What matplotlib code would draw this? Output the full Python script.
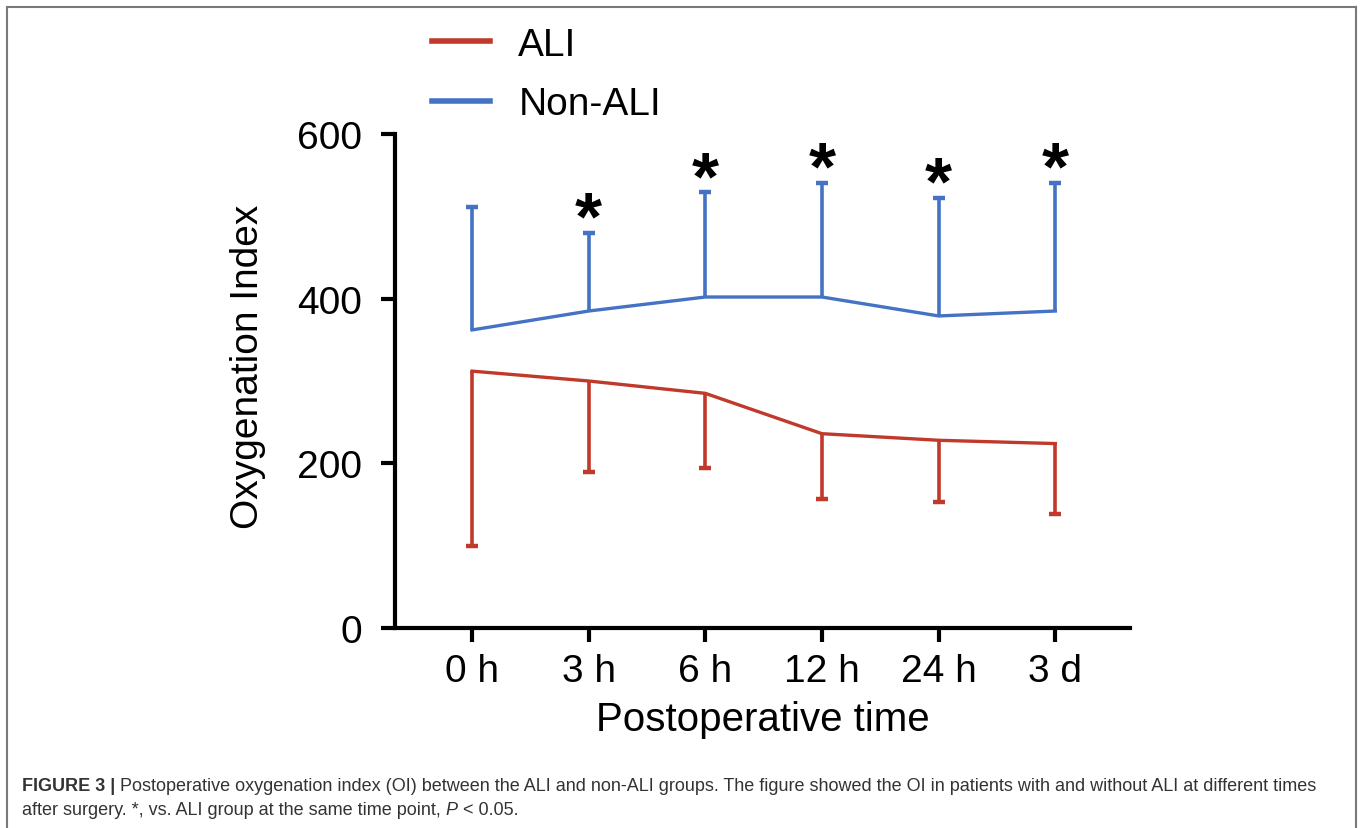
import matplotlib
matplotlib.use("Agg")
import matplotlib.pyplot as plt
from matplotlib.lines import Line2D
import numpy as np

plt.rcParams['font.family'] = ['Liberation Sans', 'DejaVu Sans']

# ---- data ----
time_labels = ["0 h", "3 h", "6 h", "12 h", "24 h", "3 d"]
nonali_mean = [362, 385, 402, 402, 379, 385]
nonali_upper = [511, 480, 529, 541, 522, 541]
ali_mean = [312, 300, 285, 236, 228, 224]
ali_lower = [99, 189, 194, 157, 153, 138]
signif = [False, True, True, True, True, True]
y_ticks = [0, 200, 400, 600]

RED = "#C0392B"
BLUE = "#4472C4"

W, H = 1360, 829
fig = plt.figure(figsize=(W / 100, H / 100), dpi=100)

ax = fig.add_axes([395 / W, 1 - 629 / H, (1130 - 395) / W, (629 - 135) / H])
x = np.arange(len(time_labels))

nm = np.array(nonali_mean); nu = np.array(nonali_upper)
am = np.array(ali_mean); al = np.array(ali_lower)

# mean lines
ax.plot(x, nm, color=BLUE, lw=2.4, zorder=3, clip_on=False)
ax.plot(x, am, color=RED, lw=2.4, zorder=3, clip_on=False)
# one-sided error bars
ax.vlines(x, nm, nu, color=BLUE, lw=2.6, zorder=3)
ax.plot(x, nu, ls="none", marker="_", ms=9, mew=3.2, color=BLUE, zorder=3, clip_on=False)
ax.vlines(x, al, am, color=RED, lw=2.6, zorder=3)
ax.plot(x, al, ls="none", marker="_", ms=9, mew=3.2, color=RED, zorder=3, clip_on=False)

for xi, up, s in zip(x, nu, signif):
    if s:
        ax.annotate("*", xy=(xi, up), xytext=(0, -4), textcoords="offset points",
                    ha="center", va="baseline", fontsize=50, fontweight="bold",
                    color="black", annotation_clip=False)

ax.set_xlim(-0.66, 5.64)
ax.set_ylim(0, 600)
ax.set_xticks(x)
ax.set_xticklabels(time_labels)
ax.set_yticks(y_ticks)
for s in ["top", "right"]:
    ax.spines[s].set_visible(False)
for s in ["left", "bottom"]:
    ax.spines[s].set_linewidth(3)
ax.tick_params(axis="both", length=10, width=3, labelsize=28)
ax.tick_params(axis="y", pad=14)
ax.tick_params(axis="x", pad=8)
ax.set_ylabel("Oxygenation Index", fontsize=28)
ax.yaxis.label.set_va("center")
ax.yaxis.set_label_coords((248 - 395) / 735, (629 - 367) / 494)
ax.set_xlabel("Postoperative time", fontsize=29, labelpad=8)

handles = [Line2D([], [], color=RED, lw=4), Line2D([], [], color=BLUE, lw=4)]
fig.legend(handles, ["ALI", "Non-ALI"], loc="upper left",
           bbox_to_anchor=(432 / W, 1 - 28 / H), frameon=False, fontsize=28,
           handlelength=1.5, handletextpad=0.72, labelspacing=0.6,
           borderpad=0, borderaxespad=0)

# ---- frame ----
gray = "#7a7a7a"
fig.add_artist(Line2D([7 / W, 7 / W], [0, 1 - 8 / H], transform=fig.transFigure, color=gray, lw=1.5))
fig.add_artist(Line2D([7 / W, 1356 / W], [1 - 8 / H, 1 - 8 / H], transform=fig.transFigure, color=gray, lw=1.5))
fig.add_artist(Line2D([1356 / W, 1356 / W], [0, 1 - 8 / H], transform=fig.transFigure, color=gray, lw=1.5))

# ---- caption ----
cap_color = "#333333"
cfs = 13
t1 = fig.text(22 / W, 1 - 791 / H, "FIGURE 3 |", fontsize=cfs, fontweight="bold", color=cap_color, va="baseline")
ax.annotate(" Postoperative oxygenation index (OI) between the ALI and non-ALI groups. The figure showed the OI in patients with and without ALI at different times",
            xy=(1, 0), xycoords=t1, va="bottom", ha="left", fontsize=cfs, color=cap_color, annotation_clip=False)
t3 = fig.text(22 / W, 1 - 815 / H, "after surgery. *, vs. ALI group at the same time point, ", fontsize=cfs, color=cap_color, va="baseline")
t4 = ax.annotate("P", xy=(1, 0), xycoords=t3, va="bottom", ha="left", fontsize=cfs, style="italic", color=cap_color, annotation_clip=False)
ax.annotate(" < 0.05.", xy=(1, 0), xycoords=t4, va="bottom", ha="left", fontsize=cfs, color=cap_color, annotation_clip=False)

fig.savefig("out.png", dpi=100)
